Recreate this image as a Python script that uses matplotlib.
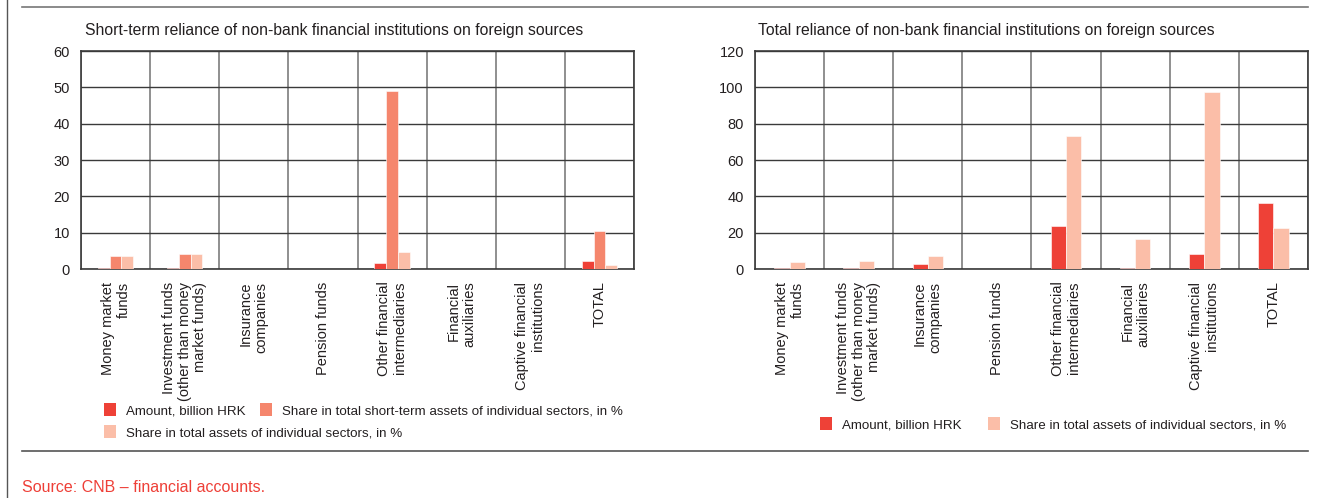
import numpy as np
import matplotlib
matplotlib.use('Agg')
import matplotlib.pyplot as plt
from matplotlib.lines import Line2D
from matplotlib.patches import Patch

plt.rcParams['font.family'] = ['Liberation Sans Narrow', 'Liberation Sans', 'DejaVu Sans']

categories = ['Money market\nfunds', 'Investment funds\n(other than money\nmarket funds)',
              'Insurance\ncompanies', 'Pension funds', 'Other financial\nintermediaries',
              'Financial\nauxiliaries', 'Captive financial\ninstitutions', 'TOTAL']

# short-term reliance
st_amount = [0.3, 0.3, 0, 0, 1.6, 0, 0, 2.2]
st_share_short = [3.5, 4.0, 0, 0, 49.0, 0, 0, 10.4]
st_share_total = [3.5, 4.0, 0, 0, 4.8, 0, 0, 1.2]

# total reliance
tot_amount = [0.3, 0.3, 2.7, 0.2, 23.6, 0.5, 8.5, 36.3]
tot_share_total = [3.6, 4.4, 7.4, 0, 73.2, 16.3, 97.3, 22.6]

RED = '#ee4137'
SALMON = '#f5866d'
PEACH = '#fbbea8'
TXT = '#231f20'

W, H = 1317, 498
fig = plt.figure(figsize=(W / 100, H / 100), dpi=100)


def px_axes(x0, y0, x1, y1):
    return fig.add_axes([x0 / W, 1 - y1 / H, (x1 - x0) / W, (y1 - y0) / H])


def style_axes(ax, ymax, step):
    n = len(categories)
    ax.set_xlim(-0.5, n - 0.5)
    ax.set_ylim(0, ymax)
    ax.set_yticks(np.arange(0, ymax + 1, step))
    ax.set_xticks(np.arange(n))
    ax.set_xticks(np.arange(n + 1) - 0.5, minor=True)
    ax.set_xticklabels(categories, rotation=90, va='top', ha='center',
                       multialignment='right', fontsize=9.2, color=TXT,
                       linespacing=1.15)
    ax.tick_params(axis='both', which='both', length=0, labelsize=10.5, colors=TXT)
    ax.tick_params(axis='x', pad=9)
    ax.tick_params(axis='y', pad=8)
    ax.grid(axis='y', which='major', color='#3a3a3a', lw=1.0)
    ax.grid(axis='x', which='minor', color='#7d7d7d', lw=1.2)
    ax.set_axisbelow(True)
    for s in ax.spines.values():
        s.set_color('#3a3a3a')
        s.set_linewidth(1.2)


x = np.arange(len(categories))

# left chart
ax1 = px_axes(81, 51, 634, 269)
bw = 0.17
ax1.bar(x - bw, st_amount, bw, color=RED, edgecolor='white', lw=0.4, zorder=3)
ax1.bar(x, st_share_short, bw, color=SALMON, edgecolor='white', lw=0.4, zorder=3)
ax1.bar(x + bw, st_share_total, bw, color=PEACH, edgecolor='white', lw=0.4, zorder=3)
style_axes(ax1, 60, 10)
fig.text(85 / W, 1 - 30 / H, 'Short-term reliance of non-bank financial institutions on foreign sources',
         fontsize=11.3, color=TXT, va='center', ha='left')

# right chart
ax2 = px_axes(755, 51, 1308, 269)
bw2 = 0.22
ax2.bar(x - bw2 / 2, tot_amount, bw2, color=RED, edgecolor='white', lw=0.4, zorder=3)
ax2.bar(x + bw2 / 2, tot_share_total, bw2, color=PEACH, edgecolor='white', lw=0.4, zorder=3)
style_axes(ax2, 120, 20)
fig.text(758 / W, 1 - 30 / H, 'Total reliance of non-bank financial institutions on foreign sources',
         fontsize=11.3, color=TXT, va='center', ha='left')

# legends
h_amount = Patch(facecolor=RED, label='Amount, billion HRK')
h_short = Patch(facecolor=SALMON, label='Share in total short-term assets of individual sectors, in %')
h_total = Patch(facecolor=PEACH, label='Share in total assets of individual sectors, in %')
leg_kw = dict(frameon=False, fontsize=9.6, handlelength=0.9, handleheight=1.15,
              handletextpad=0.75, columnspacing=1.1, borderpad=0, borderaxespad=0,
              labelcolor=TXT)
fig.legend(handles=[h_amount, h_short], ncol=2, loc='center left',
           bbox_to_anchor=(104 / W, 1 - 410 / H), **leg_kw)
fig.legend(handles=[h_total], loc='center left',
           bbox_to_anchor=(104 / W, 1 - 432 / H), **leg_kw)
fig.legend(handles=[h_amount, h_total], ncol=2, loc='center left',
           bbox_to_anchor=(820 / W, 1 - 424 / H), **dict(leg_kw, columnspacing=2.0))

# frame lines
fig.add_artist(Line2D([7 / W, 7 / W], [0, 1], color='#555555', lw=1.0))
fig.add_artist(Line2D([22 / W, 1308 / W], [1 - 7 / H, 1 - 7 / H], color='#777777', lw=1.2))
fig.add_artist(Line2D([22 / W, 1308 / W], [1 - 451 / H, 1 - 451 / H], color='#555555', lw=1.2))

fig.text(22 / W, 1 - 487 / H, 'Source: CNB – financial accounts.', fontsize=11.5,
         color='#ee3f37', va='center', ha='left')

fig.savefig('out.png', dpi=100)
